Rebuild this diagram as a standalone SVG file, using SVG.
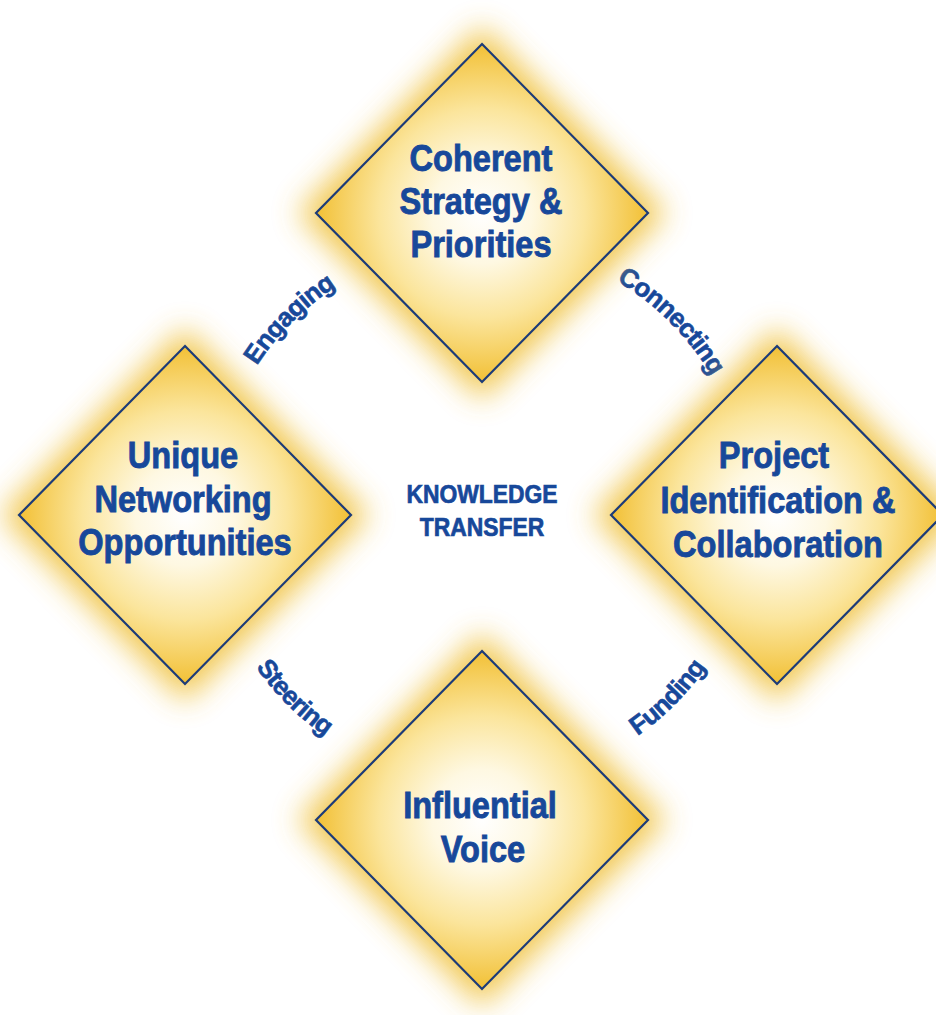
<svg xmlns="http://www.w3.org/2000/svg" width="936" height="1015" viewBox="0 0 936 1015">
<defs>
<radialGradient id="fillGrad" cx="50%" cy="50%" r="50%">
<stop offset="0%" stop-color="#ffffff"/>
<stop offset="30%" stop-color="#fef8e2"/>
<stop offset="62%" stop-color="#fbe59c"/>
<stop offset="100%" stop-color="#f2c035"/>
</radialGradient>
<filter id="glow" x="-40%" y="-40%" width="180%" height="180%">
<feGaussianBlur stdDeviation="15"/>
</filter>
<path id="arcTop" d="M 214 511 A 267 267 0 0 1 748 511"/>
<path id="arcBot" d="M 207 511 A 274 274 0 0 0 755 511"/>
</defs>
<style>
.glow{fill:#f0c240;opacity:0.9;filter:url(#glow)}
.dia{fill:url(#fillGrad);stroke:#1c3b78;stroke-width:2.2;stroke-linejoin:miter}
.lbl{font-family:"Liberation Sans",Arial,sans-serif;font-weight:bold;font-size:37px;fill:#17489a;stroke:#17489a;stroke-width:0.9px;text-anchor:middle}
.ctr{font-family:"Liberation Sans",Arial,sans-serif;font-weight:bold;font-size:26px;fill:#17489a;stroke:#17489a;stroke-width:0.7px;text-anchor:middle}
.arc{font-family:"Liberation Sans",Arial,sans-serif;font-weight:bold;font-size:26px;letter-spacing:-0.8px;fill:#17489a;stroke:#17489a;stroke-width:0.6px;text-anchor:middle}
</style>
<rect width="936" height="1015" fill="#ffffff"/>
<g id="connectors">
<text class="arc"><textPath href="#arcTop" startOffset="25%">Engaging</textPath></text>
<text class="arc"><textPath href="#arcTop" startOffset="75%">Connecting</textPath></text>
<text class="arc"><textPath href="#arcBot" startOffset="25%">Steering</textPath></text>
<text class="arc"><textPath href="#arcBot" startOffset="75%">Funding</textPath></text>
</g>
<g id="node-top">
<polygon class="glow" points="482,26 666,213 482,400 298,213"/>
<polygon class="dia" points="482,44 648,213 482,382 316,213"/>
<text class="lbl" transform="translate(481,171) scale(0.88,1)">Coherent</text>
<text class="lbl" transform="translate(481,214) scale(0.88,1)">Strategy &amp;</text>
<text class="lbl" transform="translate(481,257) scale(0.88,1)">Priorities</text>
</g>
<g id="node-left">
<polygon class="glow" points="185,328 369,515 185,702 1,515"/>
<polygon class="dia" points="185,346 351,515 185,684 19,515"/>
<text class="lbl" transform="translate(183,468) scale(0.88,1)">Unique</text>
<text class="lbl" transform="translate(183,512) scale(0.88,1)">Networking</text>
<text class="lbl" transform="translate(185,555) scale(0.88,1)">Opportunities</text>
</g>
<g id="node-right">
<polygon class="glow" points="777,328 961,515 777,702 593,515"/>
<polygon class="dia" points="777,346 943,515 777,684 611,515"/>
<text class="lbl" transform="translate(774,468) scale(0.88,1)">Project</text>
<text class="lbl" transform="translate(778,513) scale(0.88,1)">Identification &amp;</text>
<text class="lbl" transform="translate(778,557) scale(0.88,1)">Collaboration</text>
</g>
<g id="node-bottom">
<polygon class="glow" points="482,633 666,820 482,1007 298,820"/>
<polygon class="dia" points="482,651 648,820 482,989 316,820"/>
<text class="lbl" transform="translate(480,818) scale(0.88,1)">Influential</text>
<text class="lbl" transform="translate(483,862) scale(0.88,1)">Voice</text>
</g>
<g id="node-center">
<text class="ctr" transform="translate(482,503) scale(0.88,1)">KNOWLEDGE</text>
<text class="ctr" transform="translate(482,536) scale(0.88,1)">TRANSFER</text>
</g>
</svg>
